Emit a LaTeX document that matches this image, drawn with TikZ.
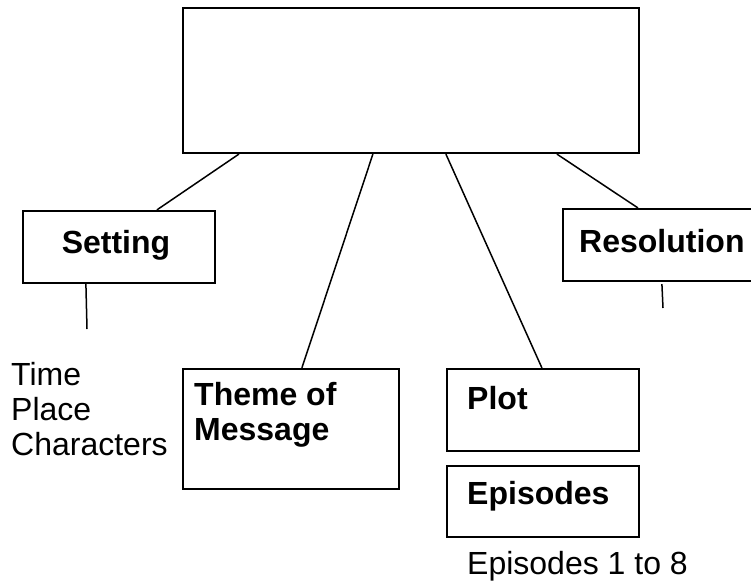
\documentclass[tikz,border=0pt]{standalone}
\usepackage{fontspec}
\setmainfont{Liberation Sans}
\usetikzlibrary{calc}
\begin{document}
\begin{tikzpicture}[x=1pt,y=-1pt,
  boxnode/.style={draw=black,line width=2.2pt,rectangle,inner sep=0pt,fill=white},
  conn/.style={draw=black,line width=1.5pt},
  lbl/.style={anchor=base west,inner sep=0pt,font=\fontsize{32}{35}\selectfont\bfseries},
  plain/.style={anchor=base west,inner sep=0pt,font=\fontsize{32}{35}\selectfont,align=left}]
\useasboundingbox[fill=white] (0,0) rectangle (751,582);
\clip (0,0) rectangle (751,582);
% boxes
\node[boxnode,minimum width=456pt,minimum height=145pt] (top) at (411,80.5) {};
\node[boxnode,minimum width=192pt,minimum height=72pt] (setting) at (119,247) {};
\node[boxnode,minimum width=230pt,minimum height=72pt] (res) at (678,245) {};
\node[boxnode,minimum width=216pt,minimum height=120pt] (theme) at (291,429) {};
\node[boxnode,minimum width=192pt,minimum height=82pt] (plot) at (543,410) {};
\node[boxnode,minimum width=192pt,minimum height=71pt] (epi) at (543,501.5) {};
% labels
\node[lbl,anchor=base] (settingtxt) at (116,253) {Setting};
\node[lbl] (restxt) at (579,252) {Resolution};
\node[lbl] (theme1) at (194,405) {Theme of};
\node[lbl] (theme2) at (194,440) {Message};
\node[lbl] (plottxt) at (467,409) {Plot};
\node[lbl] (epitxt) at (467,504) {Episodes};
\node[plain] (time) at (11,385) {Time};
\node[plain] (place) at (11,420) {Place};
\node[plain] (chars) at (11,455) {Characters};
\node[plain] (epilist) at (467,574) {Episodes 1 to 8};
% connectors
\coordinate (setend) at (87,329);
\coordinate (resend) at (663,308);
\draw[conn] ($(top.south west)+(57,0)$) -- ($(setting.north west)+(135,0)$);
\draw[conn] ($(top.south west)+(191,0)$) -- ($(theme.north west)+(120,0)$);
\draw[conn] ($(top.south west)+(264,0)$) -- ($(plot.north west)+(96,0)$);
\draw[conn] ($(top.south west)+(375,0)$) -- ($(res.north west)+(76,0)$);
\draw[conn] ($(setting.south west)+(64,0)$) -- (setend);
\draw[conn] ($(res.south west)+(100,2)$) -- (resend);
\end{tikzpicture}
\end{document}
